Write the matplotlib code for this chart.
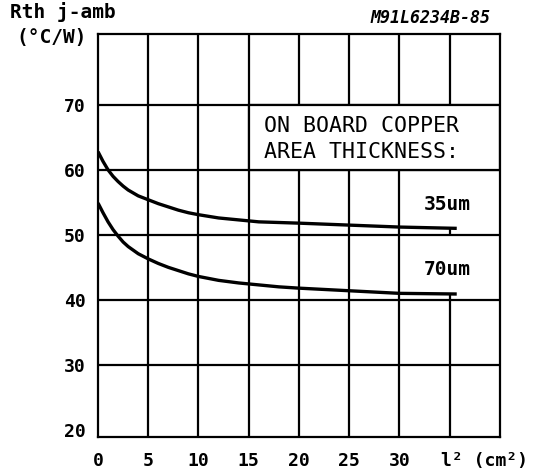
import matplotlib
matplotlib.use('Agg')
import matplotlib.pyplot as plt
from matplotlib.patches import Rectangle

# copper area l^2 (cm^2) and thermal resistance (degC/W)
area_35 = [0, 0.5, 1, 1.5, 2, 2.5, 3, 4, 5, 6, 7, 8, 9, 10, 12, 14, 16, 18, 20, 25, 30, 35.7]
rth_35 = [62.8, 61.3, 60.0, 59.0, 58.2, 57.5, 56.9, 56.0, 55.4, 54.8, 54.3, 53.8, 53.4, 53.1,
          52.6, 52.3, 52.0, 51.9, 51.8, 51.5, 51.2, 51.0]
area_70 = [0, 0.5, 1, 1.5, 2, 2.5, 3, 4, 5, 6, 7, 8, 9, 10, 12, 14, 16, 18, 20, 25, 30, 35.7]
rth_70 = [54.9, 53.4, 52.0, 50.8, 49.8, 48.9, 48.2, 47.1, 46.3, 45.6, 45.0, 44.5, 44.0, 43.6,
          43.0, 42.6, 42.3, 42.0, 41.8, 41.4, 41.0, 40.9]

x_ticks = [0, 5, 10, 15, 20, 25, 30]
y_ticks = [20, 30, 40, 50, 60, 70]
x_grid = [5, 10, 15, 20, 25, 30, 35]
y_grid = [30, 40, 50, 60, 70]

font = 'DejaVu Sans Mono'
lw_grid = 1.6
lw_curve = 2.4

fig = plt.figure(figsize=(5.37, 4.75), dpi=100)
ax = fig.add_axes([0.1825, 0.08, 0.7485, 0.8484])
ax.set_xlim(0, 40)
ax.set_ylim(18.9, 80.9)

# grid
for g in y_grid:
    ax.axhline(g, color='black', lw=lw_grid, zorder=1)
for g in x_grid:
    if g == 35:
        # x=35 line is broken behind the curve labels
        ax.vlines(g, 18.9, rth_70[-1], color='black', lw=lw_grid, zorder=1)
        ax.vlines(g, 50, rth_35[-1], color='black', lw=lw_grid, zorder=1)
        ax.vlines(g, 70, 80.9, color='black', lw=lw_grid, zorder=1)
    else:
        ax.axvline(g, color='black', lw=lw_grid, zorder=1)

# white legend box over the grid
ax.add_patch(Rectangle((15, 60), 25, 10, facecolor='white', edgecolor='black',
                       lw=lw_grid, zorder=2))
ax.text(16.5, 66.8, 'ON BOARD COPPER', family=font, fontsize=15.5,
        va='center', ha='left', zorder=3)
ax.text(16.5, 62.8, 'AREA THICKNESS:', family=font, fontsize=15.5,
        va='center', ha='left', zorder=3)

ax.plot(area_35, rth_35, color='black', lw=lw_curve, zorder=4, solid_capstyle='butt')
ax.plot(area_70, rth_70, color='black', lw=lw_curve, zorder=4, solid_capstyle='butt')
ax.text(34.8, 54.6, '35um', family=font, fontsize=14, weight='bold', ha='center', va='center')
ax.text(34.8, 44.6, '70um', family=font, fontsize=14, weight='bold', ha='center', va='center')

for s in ax.spines.values():
    s.set_linewidth(lw_grid)

ax.set_xticks(x_ticks)
ax.set_xticklabels([str(v) for v in x_ticks], family=font, fontsize=13, weight='bold')
ax.set_yticks(y_ticks)
ax.set_yticklabels([str(v) for v in y_ticks], family=font, fontsize=13, weight='bold')
ax.tick_params(axis='x', length=0, pad=11)
ax.tick_params(axis='y', length=0, pad=9)
ax.annotate('l² (cm²)', xy=(35, 18.9), xytext=(-6, -17.5), textcoords='offset points',
            family=font, fontsize=13, weight='bold', ha='left', va='center',
            annotation_clip=False)

fig.text(0.018, 0.974, 'Rth j-amb', family=font, fontsize=14, weight='bold',
         ha='left', va='center')
fig.text(0.03, 0.92, '(°C/W)', family=font, fontsize=14, weight='bold',
         ha='left', va='center')
fig.text(0.913, 0.963, 'M91L6234B-85', family=font, fontsize=12, weight='bold',
         style='italic', ha='right', va='center')

fig.savefig('out.png', dpi=100)
